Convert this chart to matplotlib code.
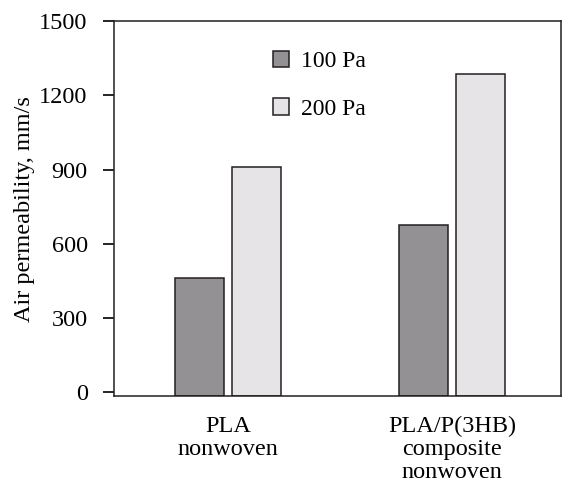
import numpy as np
import matplotlib
matplotlib.use("Agg")
import matplotlib.pyplot as plt

plt.rcParams['font.family'] = 'serif'
plt.rcParams['font.serif'] = ['Liberation Serif', 'DejaVu Serif']

GROUPS = ['PLA\nnonwoven', 'PLA/P(3HB)\ncomposite\nnonwoven']
PA100 = [463, 677]
PA200 = [909, 1288]
SERIES = ['100 Pa', '200 Pa']
COLORS = ['#939194', '#e6e4e6']
YTICKS = [0, 300, 600, 900, 1200, 1500]

fig = plt.figure(figsize=(5.62, 4.82), dpi=100)
ax = fig.add_axes([0.203, 0.178, 0.795, 0.778])

x = np.arange(len(GROUPS))
width = 0.22
off = 0.127
y0 = -17
for vals, dx, col, lab in zip([PA100, PA200], [-off, off], COLORS, SERIES):
    ax.bar(x + dx, np.array(vals) - y0, width, bottom=y0, color=col,
           edgecolor='#231f20', linewidth=1.1, label=lab)

ax.set_xlim(-0.507, 1.486)
ax.set_ylim(y0, 1500)
ax.set_yticks(YTICKS)
ax.set_yticklabels([str(t) for t in YTICKS], fontsize=17.5)
ax.set_xticks(x)
ax.set_xticklabels(GROUPS, fontsize=17.5, linespacing=1.12)
ax.tick_params(axis='x', length=0, pad=14)
ax.tick_params(axis='y', direction='out', length=8, width=1.2, pad=11)
for s in ax.spines.values():
    s.set_linewidth(1.1)
    s.set_color('#231f20')
ax.set_ylabel('Air permeability, mm/s', fontsize=17.5, labelpad=3)

ax.legend(loc='upper left', bbox_to_anchor=(272.5 / 562, 1 - 50.5 / 482),
          bbox_transform=fig.transFigure, frameon=False, fontsize=17,
          handlelength=0.7, handleheight=0.7, handletextpad=0.5,
          labelspacing=1.1, borderpad=0, borderaxespad=0)

fig.savefig('out.png', dpi=100)
